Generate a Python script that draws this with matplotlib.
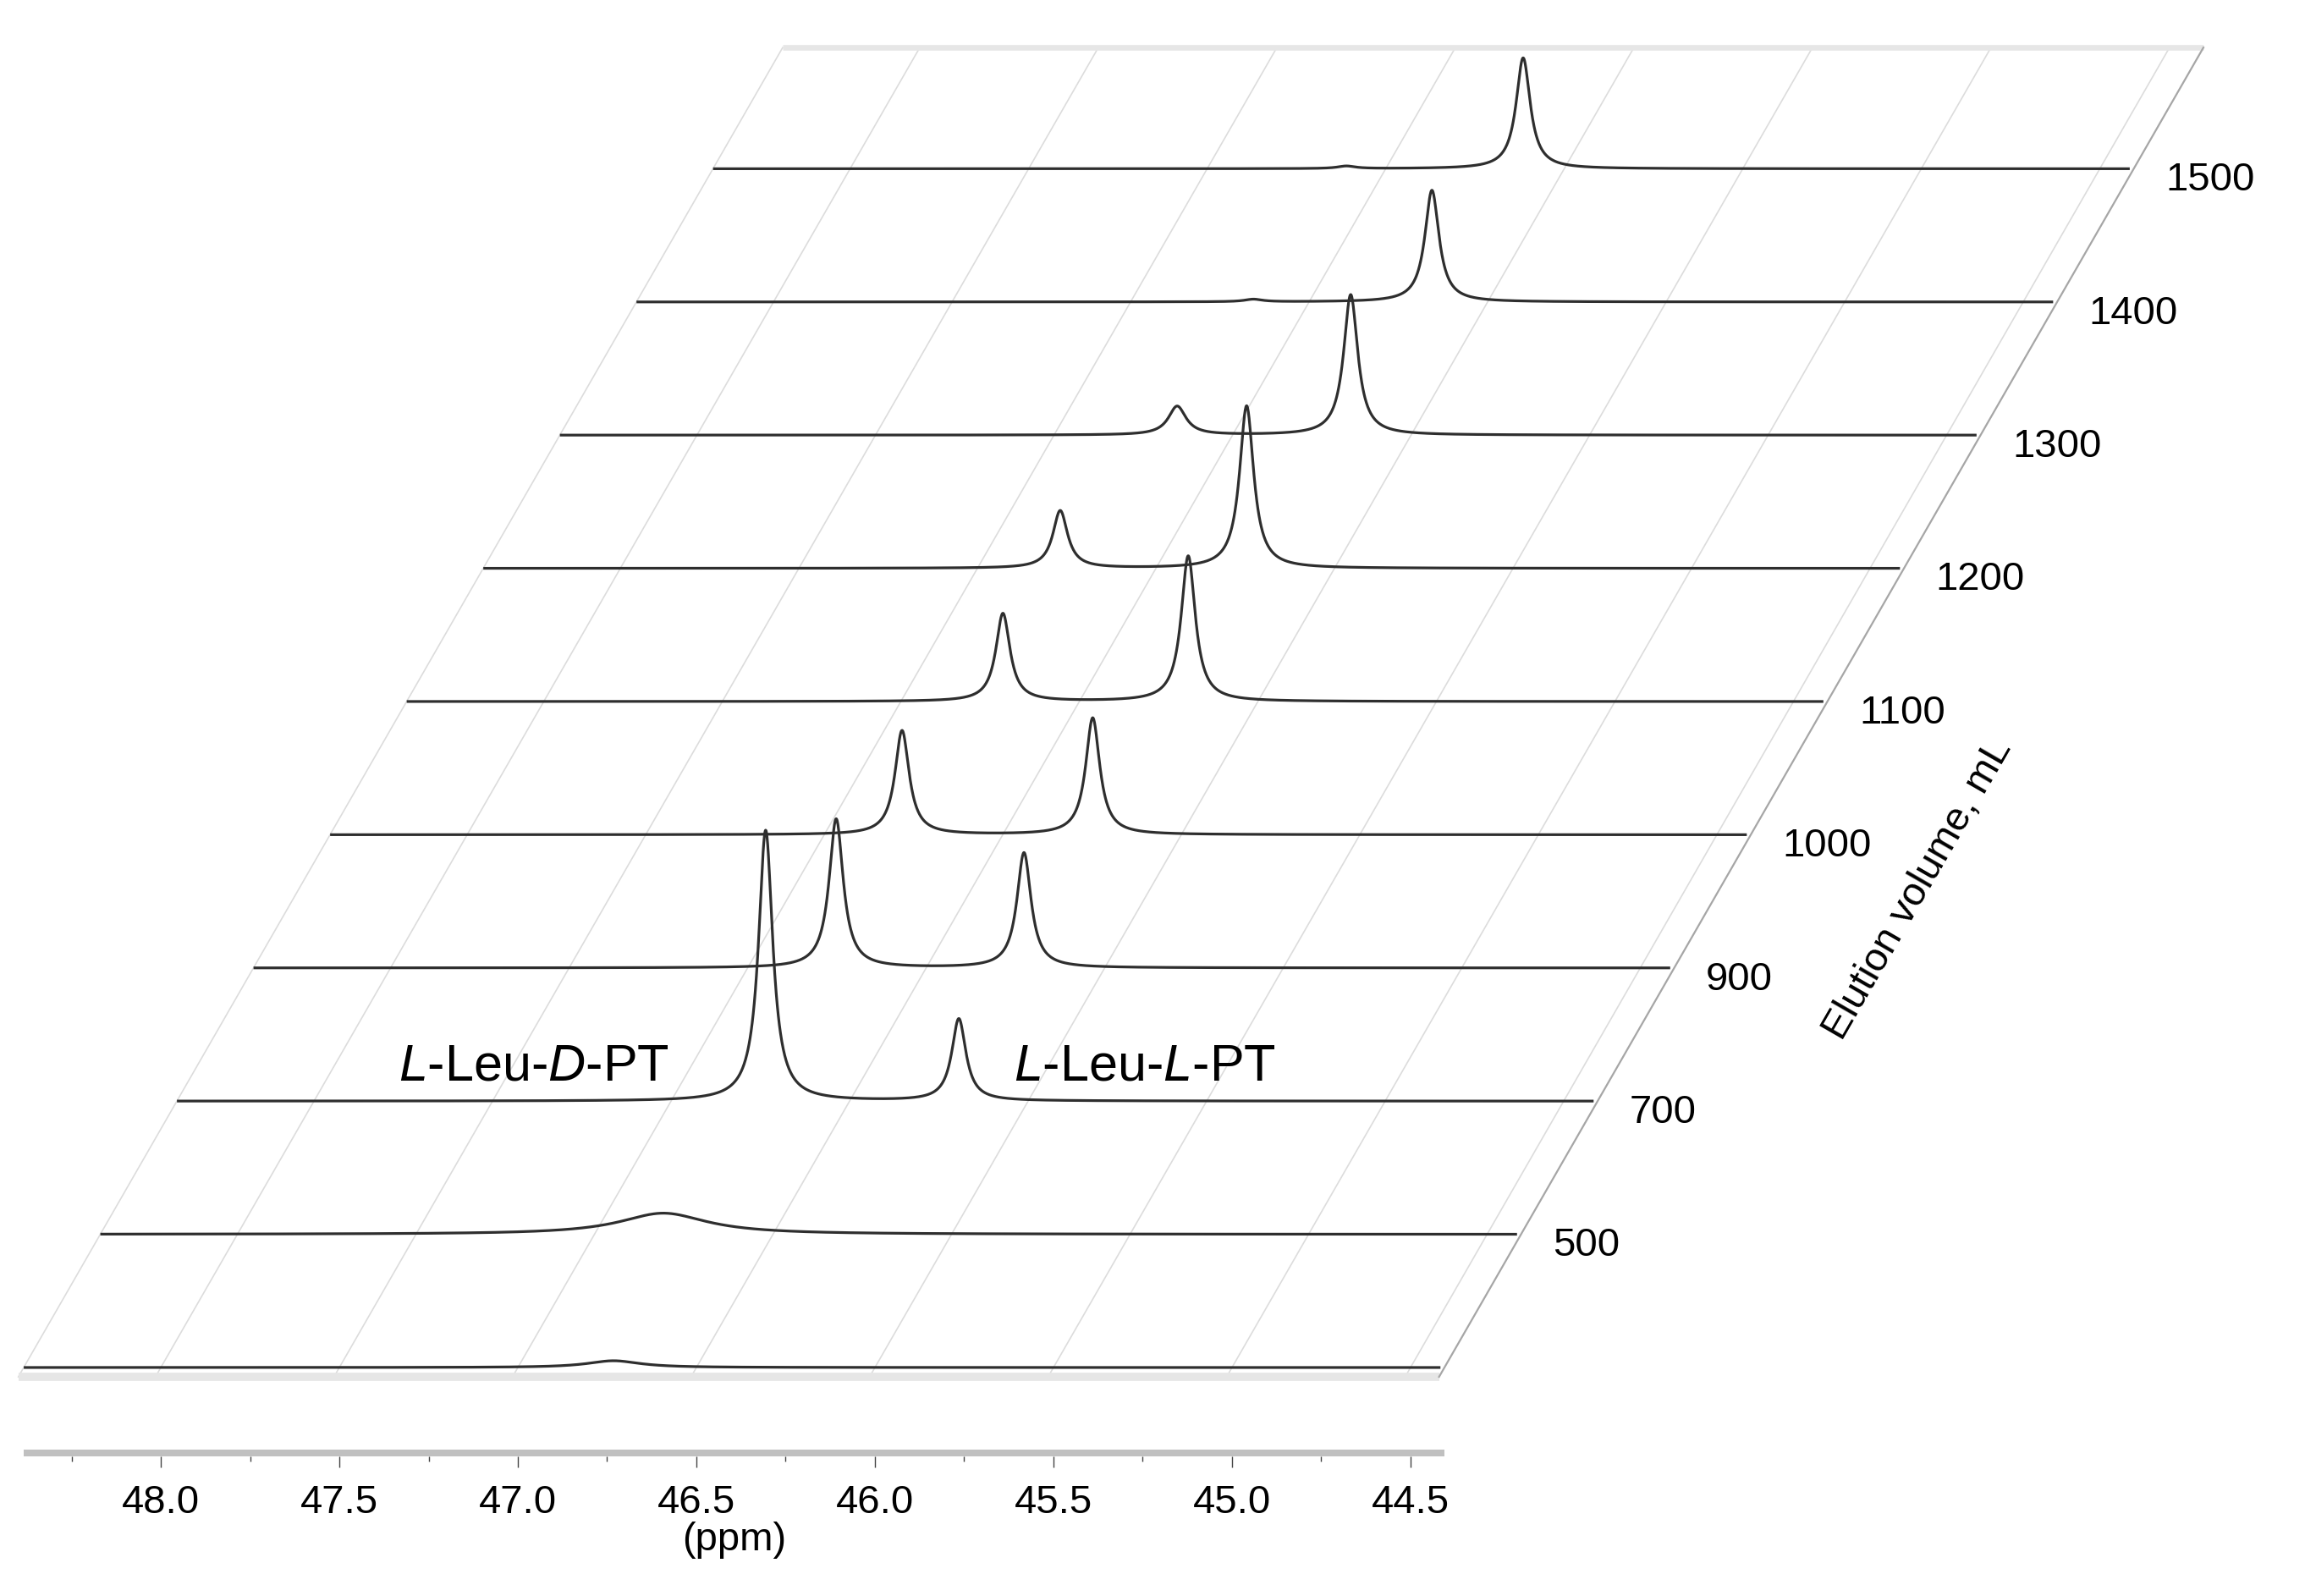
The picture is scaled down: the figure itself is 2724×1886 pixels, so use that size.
import numpy as np
import matplotlib.pyplot as plt
from matplotlib.ticker import MultipleLocator, FormatStrFormatter

plt.rcParams['font.family'] = ['Liberation Sans', 'DejaVu Sans']
plt.rcParams['mathtext.fontset'] = 'custom'
plt.rcParams['mathtext.rm'] = 'Liberation Sans'
plt.rcParams['mathtext.it'] = 'Liberation Sans:italic'

# elution volume (mL) of each spectrum, front to back; the front one has no label
volume_labels = ['', '500', '700', '900', '1000', '1100', '1200', '1300', '1400', '1500']

# L-Leu-D-PT signal per spectrum: shift (ppm), height (a.u.), half width (ppm)
d_shift = [46.732, 46.807, 46.735, 46.752, 46.782, 46.714, 46.768, 46.655, 46.656, 46.610]
d_height = [8, 25, 320, 176, 123, 104, 68, 34, 3, 3]
d_width = [0.09, 0.15, 0.024, 0.024, 0.024, 0.024, 0.025, 0.03, 0.03, 0.03]

# L-Leu-L-PT signal per spectrum
l_shift = [46.20, 46.20, 46.194, 46.226, 46.248, 46.195, 46.246, 46.169, 46.156, 46.115]
l_height = [0, 0, 97, 136, 138, 172, 192, 166, 132, 131]
l_width = [0.024] * 10

# ppm window of the plot
ppm_left, ppm_right = 48.384, 44.405

# oblique stacking: ppm shift and vertical step per spectrum
SHIFT = 0.2145
STEP = 157.4
D_FRONT, D_BACK = -0.07, 9.91

W, H = 2724, 1886


def lorentz(x, c, h, g):
    return h * g**2 / ((x - c)**2 + g**2)


def proj(ppm, depth, h=0.0):
    ppm = np.asarray(ppm, dtype=float)
    depth = np.asarray(depth, dtype=float)
    return ppm - depth * SHIFT, depth * STEP + h


fig = plt.figure(figsize=(W / 100, H / 100), dpi=100)
ax = fig.add_axes([28 / W, (H - 1616) / H, 1679 / W, 1560 / H])
ax.set_xlim(ppm_left, ppm_right)
ax.set_ylim(0, 1560)
ax.axis('off')

# floor grid
for g in np.arange(48.0, 44.4, -0.5):
    x, y = proj([g, g], [D_FRONT, D_BACK])
    ax.plot(x, y, color='#dcdcdc', lw=1.2, clip_on=False, zorder=1)
x, y = proj([ppm_left, ppm_left], [D_FRONT, D_BACK])
ax.plot(x, y, color='#dcdcdc', lw=1.2, clip_on=False, zorder=1)
x, y = proj([ppm_right, ppm_right], [D_FRONT, D_BACK])
ax.plot(x, y, color='#a6a6a6', lw=1.6, clip_on=False, zorder=2)
x, y = proj([ppm_left, ppm_right], [D_FRONT, D_FRONT])
ax.plot(x, y, color='#e6e6e6', lw=7, solid_capstyle='butt', clip_on=False, zorder=1)
x, y = proj([ppm_left, ppm_right], [D_BACK, D_BACK])
ax.plot(x, y, color='#e6e6e6', lw=4.8, solid_capstyle='butt', clip_on=False, zorder=1)

# spectra
ppm = np.linspace(48.38, 44.42, 4000)
for i in range(len(volume_labels)):
    inten = lorentz(ppm, d_shift[i], d_height[i], d_width[i])
    inten = inten + lorentz(ppm, l_shift[i], l_height[i], l_width[i])
    x, y = proj(ppm, i, inten)
    ax.plot(x, y, color='#2e2e2e', lw=2.3, clip_on=False, zorder=3)
    if volume_labels[i]:
        xe, ye = proj(ppm_right, i)
        ax.annotate(volume_labels[i], (xe, ye), xytext=(27, -10), textcoords='offset points',
                    ha='left', va='center', fontsize=34, annotation_clip=False)

# peak labels on the 700 mL spectrum
x, y = proj(47.005, 2, 25)
ax.text(x, y, r'$\mathit{L}$-Leu-$\mathit{D}$-PT', fontsize=44, ha='right', va='baseline')
x, y = proj(46.04, 2, 25)
ax.text(x, y, r'$\mathit{L}$-Leu-$\mathit{L}$-PT', fontsize=44, ha='left', va='baseline')

fig.text(2267 / W, 1 - 1051 / H, 'Elution volume, mL', rotation=60, rotation_mode='anchor',
         ha='center', va='center', fontsize=34)

# ppm scale
axb = fig.add_axes([28 / W, (H - 1721) / H, 1679 / W, 8 / H])
axb.set_facecolor('#c0c0c0')
for s in axb.spines.values():
    s.set_visible(False)
axb.set_xlim(ppm_left, ppm_right)
axb.set_yticks([])
axb.xaxis.set_major_locator(MultipleLocator(0.5))
axb.xaxis.set_minor_locator(MultipleLocator(0.25))
axb.xaxis.set_major_formatter(FormatStrFormatter('%.1f'))
axb.tick_params(axis='x', which='major', direction='out', length=9.5, width=1.0,
                color='#444444', labelsize=34, pad=14)
axb.tick_params(axis='x', which='minor', direction='out', length=4.5, width=1.0, color='#444444')
axb.set_xlabel('(ppm)', fontsize=34, labelpad=0)

fig.savefig('out.png', dpi=100)
